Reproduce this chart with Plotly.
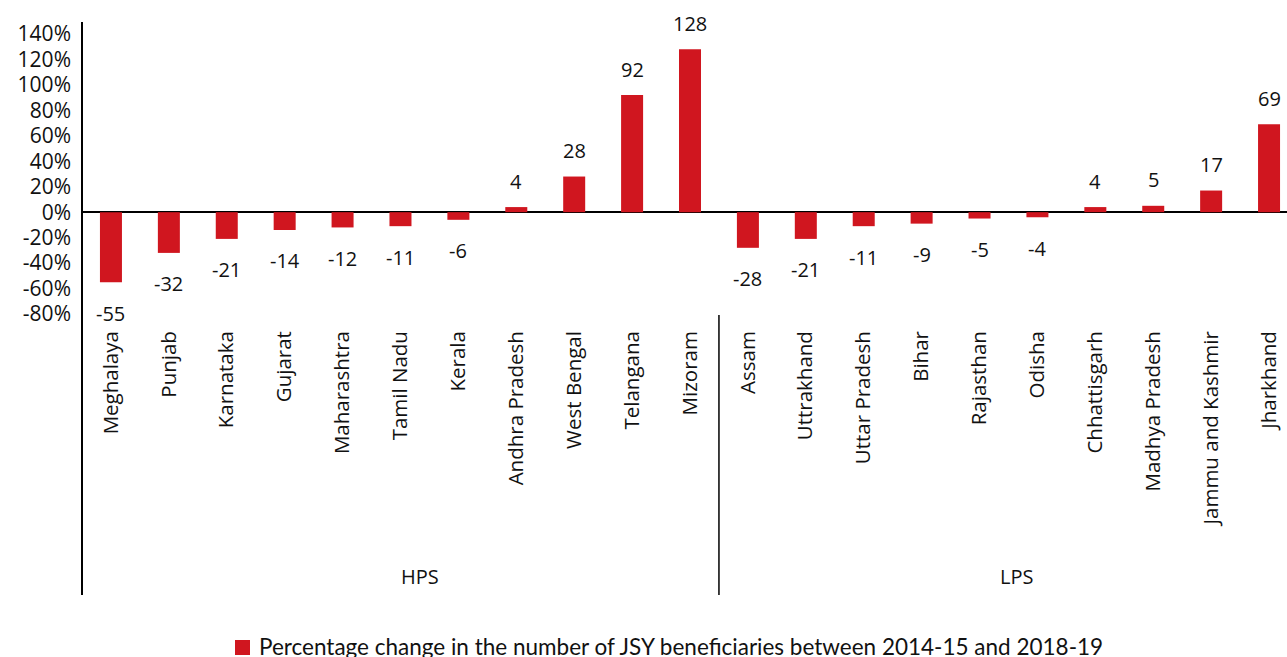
import plotly.graph_objects as go

hps_states = ["Meghalaya", "Punjab", "Karnataka", "Gujarat", "Maharashtra", "Tamil Nadu",
              "Kerala", "Andhra Pradesh", "West Bengal", "Telangana", "Mizoram"]
hps_values = [-55, -32, -21, -14, -12, -11, -6, 4, 28, 92, 128]
lps_states = ["Assam", "Uttrakhand", "Uttar Pradesh", "Bihar", "Rajasthan", "Odisha",
              "Chhattisgarh", "Madhya Pradesh", "Jammu and Kashmir", "Jharkhand"]
lps_values = [-28, -21, -11, -9, -5, -4, 4, 5, 17, 69]
groups = ["HPS", "LPS"]
y_ticks = [-80, -60, -40, -20, 0, 20, 40, 60, 80, 100, 120, 140]
series_name = "Percentage change in the number of JSY beneficiaries between 2014-15 and 2018-19"

states = hps_states + lps_states
values = hps_values + lps_values

RED = "#D0161F"
FONT = "Open Sans"
W = 1298
PW = W - 82

fig = go.Figure()
fig.add_trace(go.Bar(
    x=states, y=values, name=series_name, marker_color=RED,
    marker_line_width=0, width=0.38, showlegend=False,
))

annotations = []
for s, v in zip(states, values):
    annotations.append(dict(
        x=s, y=v, xref="x", yref="y", text=str(v), showarrow=False,
        yanchor="middle", yshift=26 if v >= 0 else -31,
        font=dict(family=FONT, size=20, color="#111"),
    ))

n_h = len(hps_states)
n_l = len(lps_states)
annotations.append(dict(x=(n_h - 1) / 2, y=-0.90, xref="x", yref="paper", text=groups[0],
                        showarrow=False, xshift=20, yanchor="middle",
                        font=dict(family=FONT, size=20, color="#111")))
annotations.append(dict(x=n_h + (n_l - 1) / 2, y=-0.90, xref="x", yref="paper", text=groups[1],
                        showarrow=False, xshift=8, yanchor="middle",
                        font=dict(family=FONT, size=20, color="#111")))
annotations.append(dict(x=(257 - 82) / PW, y=-1.14, xref="paper", yref="paper",
                        text=series_name, showarrow=False, xanchor="left", yanchor="middle",
                        font=dict(family="Lato", size=22.5, color="#111")))

shapes = [
    dict(type="line", xref="paper", yref="paper", x0=0, x1=0, y0=1.0, y1=-0.962,
         line=dict(color="#000", width=2)),
    dict(type="line", xref="x", yref="paper", x0=n_h - 0.5, x1=n_h - 0.5, y0=-0.003, y1=-0.962,
         line=dict(color="#000", width=1.5)),
    dict(type="rect", xref="paper", yref="paper",
         x0=(235 - 82) / PW, x1=(250 - 82) / PW,
         y0=(314 - 655) / 292, y1=(314 - 640) / 292,
         fillcolor=RED, line=dict(width=0)),
]

fig.update_layout(
    width=W, height=657,
    margin=dict(l=82, r=0, t=22, b=343),
    plot_bgcolor="white", paper_bgcolor="white",
    font=dict(family=FONT, color="#111"),
    annotations=annotations,
    shapes=shapes,
    showlegend=False,
    xaxis=dict(
        type="category", tickangle=-90, showline=False, showgrid=False, ticks="",
        tickfont=dict(family=FONT, size=20.5, color="#111"), range=[-0.5, len(states) - 0.5],
        automargin=False, ticklabelstandoff=12,
    ),
    yaxis=dict(
        range=[-80, 149.4], tickmode="array", tickvals=y_ticks,
        ticktext=[f"{v}%" for v in y_ticks], showgrid=False,
        zeroline=True, zerolinecolor="#000", zerolinewidth=1.5, showline=False,
        tickfont=dict(family=FONT, size=21, color="#111"), ticks="", automargin=False,
        ticklabelstandoff=10,
    ),
)

fig.write_html("out.html", config={"displayModeBar": False},
               post_script="document.body.style.margin='0';document.body.style.overflow='hidden';")
